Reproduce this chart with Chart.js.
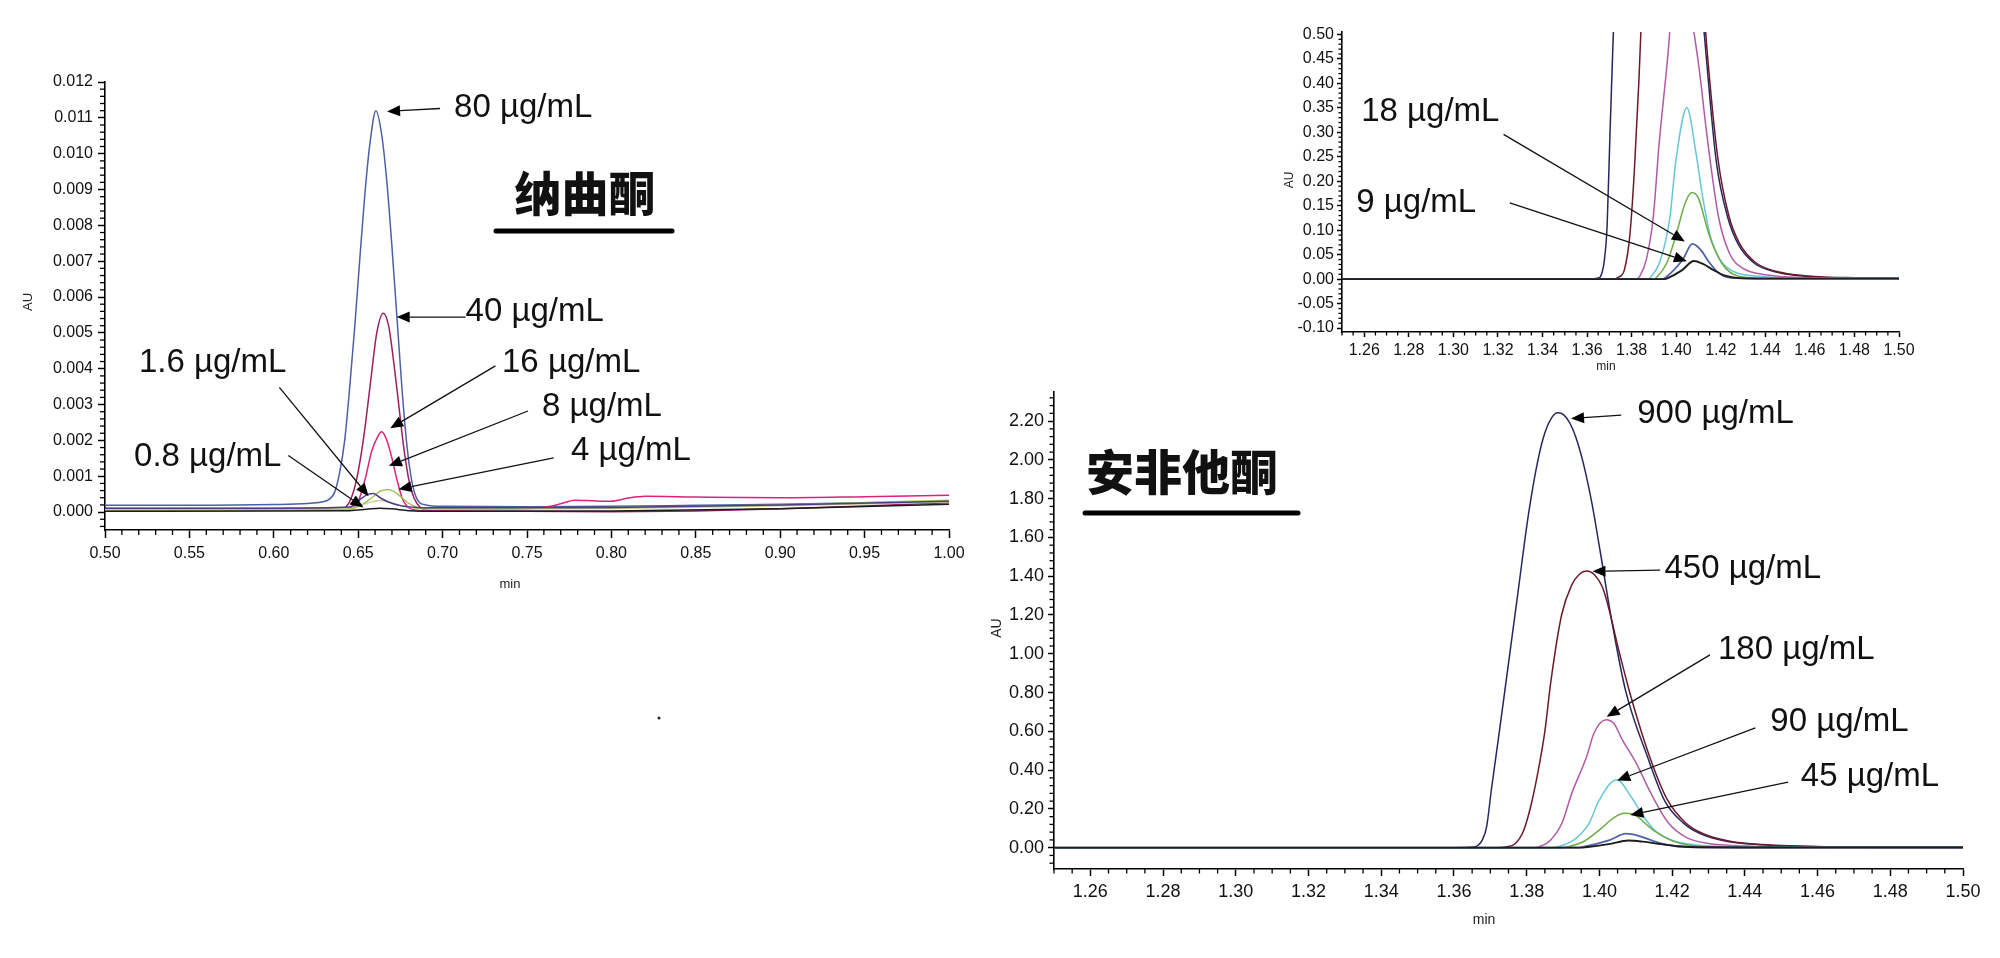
<!DOCTYPE html>
<html>
<head>
<meta charset="utf-8">
<script src="https://cdn.jsdelivr.net/npm/chart.js@4.4.1/dist/chart.umd.min.js"></script>
<style>
  html, body { margin: 0; padding: 0; background: #fff; width: 2000px; height: 958px; overflow: hidden; }
  canvas { position: absolute; left: 0; top: 0; }
</style>
</head>
<body>
<canvas id="naltrexone" width="2000" height="958"></canvas>
<canvas id="amfeZoom" width="2000" height="958"></canvas>
<canvas id="amfeFull" width="2000" height="958"></canvas>
<script>
// ---- tick labels ----
const leftXTicks = [0.50, 0.55, 0.60, 0.65, 0.70, 0.75, 0.80, 0.85, 0.90, 0.95, 1.00];
const leftYTicks = [0.000, 0.001, 0.002, 0.003, 0.004, 0.005, 0.006, 0.007, 0.008, 0.009, 0.010, 0.011, 0.012];
const rightXTicks = [1.26, 1.28, 1.30, 1.32, 1.34, 1.36, 1.38, 1.40, 1.42, 1.44, 1.46, 1.48, 1.50];
const topYTicks = [-0.10, -0.05, 0.00, 0.05, 0.10, 0.15, 0.20, 0.25, 0.30, 0.35, 0.40, 0.45, 0.50];
const bottomYTicks = [0.00, 0.20, 0.40, 0.60, 0.80, 1.00, 1.20, 1.40, 1.60, 1.80, 2.00, 2.20];

// ---- 纳曲酮 traces [min, AU] ----
const nal80 = [[0.50,0.00019],[0.55,0.00019],[0.60,0.00021],[0.62,0.00024],[0.628,0.00028],[0.633,0.00036],[0.636,0.00055],[0.639,0.0011],[0.642,0.0020],[0.645,0.0035],[0.648,0.0052],[0.651,0.0071],[0.654,0.0089],[0.657,0.0103],[0.6605,0.0112],[0.664,0.0105],[0.667,0.0092],[0.670,0.0074],[0.673,0.0054],[0.676,0.0034],[0.679,0.0018],[0.682,0.0008],[0.685,0.00035],[0.690,0.0002],[0.70,0.00016],[0.75,0.00015],[0.80,0.00016],[0.85,0.00019],[0.90,0.00022],[0.95,0.00026],[1.00,0.0003]];
const nal40 = [[0.50,0.00006],[0.60,0.00006],[0.640,0.00008],[0.645,0.0003],[0.649,0.0009],[0.653,0.0020],[0.657,0.0035],[0.661,0.0050],[0.6649,0.00555],[0.668,0.0052],[0.671,0.0042],[0.674,0.0030],[0.677,0.0018],[0.680,0.0009],[0.683,0.0004],[0.687,0.00012],[0.692,0.00005],[0.70,0.00003],[0.75,0.00002],[0.80,0.00001],[0.85,0.00003],[0.90,0.00009],[0.95,0.00017],[1.00,0.00026]];
const nal16 = [[0.50,0.0001],[0.60,0.0001],[0.645,0.00011],[0.650,0.0003],[0.654,0.0009],[0.658,0.0017],[0.6615,0.0021],[0.6639,0.00224],[0.667,0.0020],[0.670,0.0015],[0.673,0.0009],[0.676,0.0004],[0.680,0.00012],[0.688,0.00004],[0.70,0.00005],[0.73,0.00008],[0.755,0.00011],[0.765,0.00017],[0.772,0.00026],[0.778,0.00033],[0.786,0.00032],[0.80,0.0003],[0.81,0.00039],[0.82,0.00044],[0.85,0.00042],[0.90,0.0004],[0.95,0.00043],[1.00,0.00047]];
const nal8 = [[0.50,0.00007],[0.60,0.00008],[0.645,0.0001],[0.655,0.00025],[0.663,0.00032],[0.672,0.00022],[0.685,0.0001],[0.70,0.00008],[0.80,0.0001],[0.90,0.00018],[1.00,0.00028]];
const nal4 = [[0.50,0.00004],[0.60,0.00005],[0.645,0.00008],[0.652,0.0002],[0.658,0.0004],[0.663,0.00058],[0.6677,0.00063],[0.672,0.00055],[0.676,0.0004],[0.68,0.00024],[0.685,0.00013],[0.69,0.0001],[0.70,0.0001],[0.80,0.00012],[0.90,0.0002],[1.00,0.00033]];
const nal1p6 = [[0.50,0.00011],[0.60,0.00011],[0.645,0.00014],[0.651,0.00035],[0.656,0.0005],[0.659,0.00052],[0.663,0.0004],[0.668,0.00028],[0.675,0.00018],[0.685,0.00013],[0.70,0.00012],[0.80,0.00013],[0.90,0.0002],[1.00,0.0003]];
const nal0p8 = [[0.50,0.00002],[0.60,0.00003],[0.645,0.00004],[0.655,0.00008],[0.663,0.00011],[0.67,0.00009],[0.68,0.00004],[0.70,0.00002],[0.80,0.00003],[0.90,0.00009],[1.00,0.00022]];

// ---- 安非他酮 traces [min, AU] (same data in both right panels) ----
const amf900 = [[1.25,0],[1.36,0],[1.3655,0.003],[1.3668,0.015],[1.3678,0.04],[1.369,0.11],[1.3703,0.30],[1.3722,0.56],[1.374,0.81],[1.3777,1.33],[1.3805,1.72],[1.383,1.99],[1.385,2.14],[1.3868,2.215],[1.3885,2.243],[1.3902,2.232],[1.392,2.185],[1.394,2.09],[1.396,1.95],[1.398,1.77],[1.4002,1.53],[1.4034,1.17],[1.4072,0.81],[1.4132,0.47],[1.418,0.24],[1.4232,0.125],[1.428,0.07],[1.4352,0.032],[1.4443,0.015],[1.453,0.008],[1.465,0.004],[1.48,0.0025],[1.50,0.002]];
const amf450 = [[1.25,0],[1.372,0],[1.3742,0.004],[1.3768,0.02],[1.3792,0.09],[1.3812,0.22],[1.3832,0.40],[1.385,0.60],[1.3866,0.85],[1.3896,1.20],[1.3924,1.355],[1.3945,1.41],[1.3965,1.427],[1.3985,1.41],[1.4011,1.33],[1.4057,0.99],[1.4085,0.79],[1.4138,0.47],[1.4186,0.25],[1.4236,0.13],[1.4284,0.073],[1.4356,0.034],[1.4447,0.016],[1.4534,0.009],[1.466,0.0045],[1.48,0.003],[1.50,0.002]];
const amf180 = [[1.25,0],[1.382,0],[1.3835,0.005],[1.3866,0.04],[1.3897,0.127],[1.3924,0.28],[1.3965,0.47],[1.3985,0.59],[1.4018,0.66],[1.404,0.64],[1.4062,0.56],[1.4103,0.43],[1.4139,0.29],[1.419,0.127],[1.424,0.052],[1.43,0.022],[1.44,0.009],[1.46,0.003],[1.50,0.002]];
const amf90 = [[1.25,0],[1.387,0],[1.3885,0.004],[1.393,0.04],[1.3972,0.127],[1.3998,0.24],[1.4048,0.35],[1.4088,0.26],[1.4118,0.17],[1.4152,0.09],[1.4197,0.04],[1.426,0.015],[1.44,0.005],[1.46,0.002],[1.50,0.002]];
const amf45 = [[1.25,0],[1.39,0],[1.391,0.003],[1.3958,0.033],[1.4001,0.093],[1.404,0.155],[1.407,0.177],[1.41,0.165],[1.4146,0.093],[1.4204,0.033],[1.428,0.006],[1.44,0.002],[1.50,0.0015]];
const amf18 = [[1.25,0],[1.394,0],[1.3952,0.003],[1.4028,0.039],[1.4073,0.072],[1.411,0.06],[1.4147,0.035],[1.419,0.013],[1.424,0.003],[1.44,0.001],[1.50,0.001]];
const amf9 = [[1.25,0],[1.395,0],[1.3962,0.002],[1.4025,0.018],[1.408,0.037],[1.412,0.031],[1.417,0.018],[1.422,0.007],[1.428,0.002],[1.44,0.001],[1.50,0.001]];

// ---- annotation labels (data coordinates) ----
const leftNotes = [
  { text: "80 µg/mL", at: [0.7068, 0.01129], from: [0.6985, 0.01126], to: [0.6671, 0.01118] },
  { text: "40 µg/mL", at: [0.7136, 0.00558], from: [0.7136, 0.00544], to: [0.6728, 0.00544] },
  { text: "16 µg/mL", at: [0.7352, 0.00416], from: [0.7313, 0.00408], to: [0.6690, 0.00234] },
  { text: "8 µg/mL", at: [0.7589, 0.00293], from: [0.7506, 0.00282], to: [0.6682, 0.00129] },
  { text: "4 µg/mL", at: [0.7761, 0.00170], from: [0.7658, 0.00151], to: [0.6739, 0.00064] },
  { text: "1.6 µg/mL", at: [0.5201, 0.00416], from: [0.6033, 0.00348], to: [0.6562, 0.00044] },
  { text: "0.8 µg/mL", at: [0.5172, 0.00155], from: [0.6086, 0.00158], to: [0.6531, 0.00013] },
];
const topNotes = [
  { text: "18 µg/mL", at: [1.2586, 0.3414], from: [1.3225, 0.2959], to: [1.4039, 0.0771] },
  { text: "9 µg/mL", at: [1.2564, 0.1551], from: [1.3253, 0.1557], to: [1.4048, 0.0367] },
];
const bottomNotes = [
  { text: "900 µg/mL", at: [1.4104, 2.236], from: [1.4060, 2.231], to: [1.3922, 2.213] },
  { text: "450 µg/mL", at: [1.4179, 1.439], from: [1.4167, 1.431], to: [1.3981, 1.425] },
  { text: "180 µg/mL", at: [1.4326, 1.0175], from: [1.4304, 0.994], to: [1.4020, 0.675] },
  { text: "90 µg/mL", at: [1.4470, 0.6466], from: [1.4429, 0.618], to: [1.4049, 0.347] },
  { text: "45 µg/mL", at: [1.4554, 0.3668], from: [1.4519, 0.3375], to: [1.4085, 0.1685] },
];

const SANS = '"Liberation Sans", Arial, sans-serif';
const NARROW = '"Liberation Sans Narrow", "Liberation Sans", Arial, sans-serif';
const CJK = '"Noto Sans CJK SC", "Noto Sans", sans-serif';

// draw minor ticks, arrows, labels, titles
const decorPlugin = {
  id: "decor",
  afterDraw(chart, args, opts) {
    const ctx = chart.ctx;
    const xs = chart.scales.x, ys = chart.scales.y;
    ctx.save();

    if (opts.minor) {
      ctx.strokeStyle = "#000";
      ctx.lineWidth = 1.3;
      const m = opts.minor;
      const isMajor = (v, list, step) => list.some((t) => Math.abs(t - v) < step / 10);
      for (let k = Math.ceil(xs.min / m.x - 1e-6); k * m.x <= xs.max + 1e-9; k++) {
        const v = k * m.x;
        if (isMajor(v, m.xMajor, m.x)) continue;
        const p = xs.getPixelForValue(v);
        ctx.beginPath();
        ctx.moveTo(p, ys.bottom);
        ctx.lineTo(p, ys.bottom + m.len);
        ctx.stroke();
      }
      for (let k = Math.ceil(ys.min / m.y - 1e-6); k * m.y <= ys.max + 1e-9; k++) {
        const v = k * m.y;
        if (isMajor(v, m.yMajor, m.y)) continue;
        const p = ys.getPixelForValue(v);
        ctx.beginPath();
        ctx.moveTo(xs.left, p);
        ctx.lineTo(xs.left - m.len, p);
        ctx.stroke();
      }
    }

    (opts.notes || []).forEach((n) => {
      const fx = xs.getPixelForValue(n.from[0]), fy = ys.getPixelForValue(n.from[1]);
      const tx = xs.getPixelForValue(n.to[0]), ty = ys.getPixelForValue(n.to[1]);
      const ang = Math.atan2(ty - fy, tx - fx);
      const headLen = 13, headW = 5.5;
      const bx = tx - headLen * Math.cos(ang), by = ty - headLen * Math.sin(ang);
      ctx.strokeStyle = "#111";
      ctx.lineWidth = 1.3;
      ctx.beginPath();
      ctx.moveTo(fx, fy);
      ctx.lineTo(bx, by);
      ctx.stroke();
      ctx.fillStyle = "#000";
      ctx.beginPath();
      ctx.moveTo(tx, ty);
      ctx.lineTo(bx + headW * Math.sin(ang), by - headW * Math.cos(ang));
      ctx.lineTo(bx - headW * Math.sin(ang), by + headW * Math.cos(ang));
      ctx.closePath();
      ctx.fill();
      ctx.font = "33px " + SANS;
      ctx.fillStyle = "#111";
      ctx.textAlign = "left";
      ctx.textBaseline = "middle";
      ctx.fillText(n.text, xs.getPixelForValue(n.at[0]), ys.getPixelForValue(n.at[1]));
    });

    (opts.texts || []).forEach((t) => {
      ctx.save();
      ctx.translate(t.x, t.y);
      if (t.rot) ctx.rotate(t.rot);
      ctx.font = t.font;
      ctx.fillStyle = t.color || "#222";
      ctx.textAlign = "center";
      ctx.textBaseline = "middle";
      ctx.fillText(t.text, 0, 0);
      ctx.restore();
    });

    (opts.bars || []).forEach((b) => {
      ctx.strokeStyle = "#000";
      ctx.lineWidth = b.w;
      ctx.lineCap = "round";
      ctx.beginPath();
      ctx.moveTo(b.x1, b.y);
      ctx.lineTo(b.x2, b.y);
      ctx.stroke();
    });

    (opts.dots || []).forEach((d) => {
      ctx.fillStyle = "#222";
      ctx.beginPath();
      ctx.arc(d.x, d.y, 1.5, 0, Math.PI * 2);
      ctx.fill();
    });

    ctx.restore();
  },
};

function axis(ticksArr, min, max, digits, font, tickLen, pad, size, isX) {
  return {
    type: "linear",
    min: min,
    max: max,
    afterBuildTicks: (s) => { s.ticks = ticksArr.map((v) => ({ value: v })); },
    afterFit: (s) => { if (isX) s.height = size; else s.width = size; },
    ticks: {
      autoSkip: false,
      maxRotation: 0,
      padding: pad,
      color: "#111",
      font: font,
      callback: (v) => Number(v).toFixed(digits),
    },
    grid: { drawOnChartArea: false, drawTicks: true, tickLength: tickLen, tickColor: "#000", tickWidth: 1.5 },
    border: { display: true, color: "#000", width: 1.6 },
  };
}

function series(label, pts, color, width) {
  return {
    label: label,
    data: pts.map((p) => ({ x: p[0], y: p[1] })),
    borderColor: color,
    borderWidth: width || 1.5,
    pointRadius: 0,
    fill: false,
    cubicInterpolationMode: "monotone",
  };
}

function makeChart(id, datasets, scales, padding, decor) {
  return new Chart(document.getElementById(id), {
    type: "line",
    data: { datasets: datasets },
    options: {
      responsive: false,
      devicePixelRatio: 1,
      animation: false,
      events: [],
      layout: { padding: padding },
      plugins: { legend: { display: false }, tooltip: { enabled: false }, decor: decor },
      scales: scales,
    },
    plugins: [decorPlugin],
  });
}

// ---- 纳曲酮 ----
makeChart(
  "naltrexone",
  [
    series("0.8 µg/mL", nal0p8, "#1c1c1c"),
    series("1.6 µg/mL", nal1p6, "#4a3f82"),
    series("4 µg/mL", nal4, "#a6c25a"),
    series("8 µg/mL", nal8, "#cfc9a0"),
    series("16 µg/mL", nal16, "#d9247a"),
    series("40 µg/mL", nal40, "#9b1f5e"),
    series("80 µg/mL", nal80, "#4d5fa6"),
  ],
  {
    x: axis(leftXTicks, 0.5, 1.0, 2, { family: SANS, size: 16 }, 8, 6, 50, true),
    y: axis(leftYTicks, -0.0005, 0.012, 3, { family: SANS, size: 16 }, 7, 5, 80, false),
  },
  { left: 25, right: 1051, top: 82, bottom: 378 },
  {
    minor: { x: 0.01, y: 0.0002, len: 5, xMajor: leftXTicks, yMajor: leftYTicks },
    notes: leftNotes,
    texts: [
      { text: "AU", x: 28, y: 302, rot: -Math.PI / 2, font: "13px " + SANS },
      { text: "min", x: 510, y: 584, font: "13px " + SANS },
      { text: "纳曲酮", x: 585, y: 193, font: "900 47px " + CJK, color: "#111" },
    ],
    bars: [{ x1: 496, x2: 672, y: 231, w: 5 }],
    dots: [{ x: 659, y: 718 }],
  }
);

// ---- 安非他酮 (zoomed baseline) ----
const amfSets = (w) => [
  series("9 µg/mL", amf9, "#1d1d1d", w + 0.4),
  series("18 µg/mL", amf18, "#4f62a8", w + 0.3),
  series("45 µg/mL", amf45, "#6aac45", w),
  series("90 µg/mL", amf90, "#67c6d6", w),
  series("180 µg/mL", amf180, "#b05ba8", w),
  series("450 µg/mL", amf450, "#6b1a2a", w),
  series("900 µg/mL", amf900, "#27275f", w),
];

makeChart(
  "amfeZoom",
  amfSets(1.5),
  {
    x: axis(rightXTicks, 1.25, 1.5, 2, { family: NARROW, size: 16 }, 5, 4, 40, true),
    y: axis(topYTicks, -0.108, 0.505, 2, { family: NARROW, size: 16 }, 5, 3, 60, false),
  },
  { left: 1282, right: 101, top: 32, bottom: 586 },
  {
    minor: { x: 0.005, y: 0.01, len: 3.5, xMajor: rightXTicks, yMajor: topYTicks },
    notes: topNotes,
    texts: [
      { text: "AU", x: 1290, y: 180, rot: -Math.PI / 2, font: "12px " + NARROW },
      { text: "min", x: 1606, y: 367, font: "12px " + NARROW },
    ],
  }
);

// ---- 安非他酮 (full scale) ----
makeChart(
  "amfeFull",
  amfSets(1.5),
  {
    x: axis(rightXTicks, 1.25, 1.5, 2, { family: SANS, size: 18 }, 7, 5, 50, true),
    y: axis(bottomYTicks, -0.11, 2.35, 2, { family: SANS, size: 18 }, 6, 4, 70, false),
  },
  { left: 984, right: 37, top: 392, bottom: 39 },
  {
    minor: { x: 0.005, y: 0.04, len: 4.5, xMajor: rightXTicks, yMajor: bottomYTicks },
    notes: bottomNotes,
    texts: [
      { text: "AU", x: 997, y: 628, rot: -Math.PI / 2, font: "14px " + SANS },
      { text: "min", x: 1484, y: 920, font: "14px " + SANS },
      { text: "安非他酮", x: 1182, y: 472, font: "900 48px " + CJK, color: "#111" },
    ],
    bars: [{ x1: 1085, x2: 1298, y: 513, w: 5 }],
  }
);
</script>
</body>
</html>
